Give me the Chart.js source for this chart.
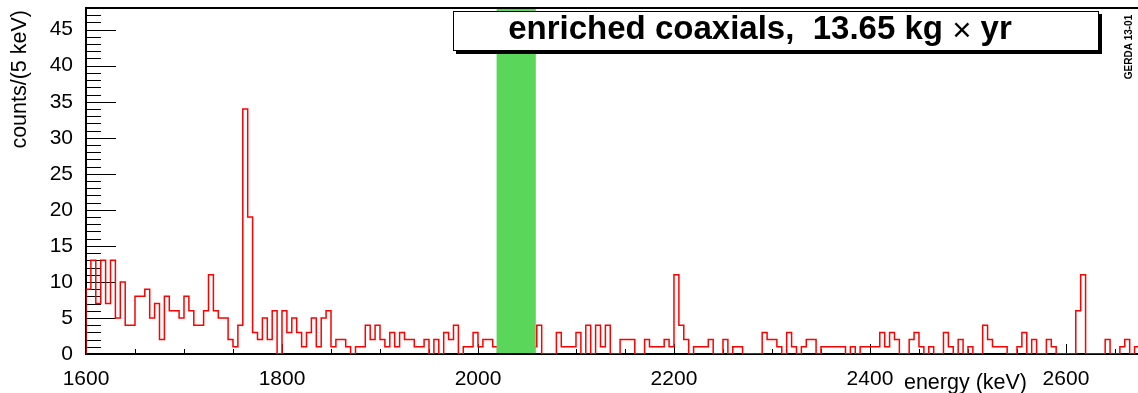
<!DOCTYPE html>
<html><head><meta charset="utf-8">
<script src="https://cdn.jsdelivr.net/npm/chart.js@4.4.0/dist/chart.umd.min.js"></script>
<style>html,body{margin:0;padding:0;background:#fff;overflow:hidden}#wrap{width:1138px;height:393px;position:relative}</style>
</head><body><div id="wrap"><canvas id="c" width="1138" height="393"></canvas></div>
<script>
// ---- data: counts per 5 keV bin, starting at 1600 keV ----
const binStart = 1600;
const binWidth = 5;
const counts1600 = [9,13,7,13,7,13,5,10,4,4, 8,8,9,5,7,2,8,6,6,5, 8,6,4,4,6,11,6,5,5,2, 1,4,34,19,3,2,5,2,6,0];
const counts1800 = [6,3,5,3,1,3,5,1,5,6, 1,2,2,1,0,1,1,4,2,4, 2,1,3,1,3,2,2,1,1,2, 0,2,0,3,2,4,0,1,1,3];
const counts2000 = [1,2,2,1,0,0,0,0,0,0, 0,1,4,0,0,0,3,1,1,1, 3,0,4,0,4,1,4,0,0,2, 2,2,0,0,2,1,1,1,2,1];
const counts2200 = [11,4,2,0,1,1,1,2,0,0, 2,0,1,1,0,0,0,0,3,2, 2,1,0,3,1,0,1,2,2,0, 1,1,1,1,1,0,1,0,1,1];
const counts2400 = [1,1,3,1,3,2,0,0,2,3, 1,0,1,0,0,3,1,0,2,0, 1,0,0,4,2,1,1,1,0,0, 1,3,0,2,0,0,2,1,0,0];
const counts2600 = [0,0,6,11,0,0,0,0,2,0, 0,1,2,0,1];
const counts = [].concat(counts1600, counts1800, counts2000, counts2200, counts2400, counts2600);

const xTickLabels = [1600, 1800, 2000, 2200, 2400, 2600];
const yTickLabels = [0, 5, 10, 15, 20, 25, 30, 35, 40, 45];
const blindWindow = [2019, 2059];
const titleMain = 'enriched coaxials,  13.65 kg ';
const titleTimes = '\u00d7';
const titleUnit = ' yr';
const xTitle = 'energy (keV)';
const yTitle = 'counts/(5 keV)';
const stamp = 'GERDA 13-01';

// histogram outline points (left edge of each bin, plus closing edge)
const points = [{x: binStart, y: 0}];
counts.forEach((c, i) => points.push({x: binStart + i * binWidth, y: c}));
points.push({x: binStart + counts.length * binWidth, y: counts[counts.length - 1]});

const FONT = '"Liberation Sans", Arial, Helvetica, sans-serif';

const axesPlugin = {
  id: 'rootAxes',
  beforeDatasetsDraw(chart) {
    const {ctx, chartArea: a, scales: {x, y}} = chart;
    ctx.save();
    ctx.strokeStyle = '#000';
    ctx.lineWidth = 1;
    for (let v = x.min; v <= x.max; v += 50) {
      const px = Math.round(x.getPixelForValue(v)) + 0.5;
      const len = (v % 200 === 0) ? 10 : 5;
      ctx.beginPath(); ctx.moveTo(px, a.bottom); ctx.lineTo(px, a.bottom - len); ctx.stroke();
    }
    for (let v = 0; v <= y.max; v += 1) {
      const py = Math.round(y.getPixelForValue(v)) + 0.5;
      const len = (v % 5 === 0) ? 30 : 15;
      ctx.beginPath(); ctx.moveTo(a.left, py); ctx.lineTo(a.left + len, py); ctx.stroke();
    }
    ctx.lineWidth = 2;
    ctx.beginPath();
    ctx.moveTo(a.right + 2, a.top); ctx.lineTo(a.left, a.top); ctx.lineTo(a.left, a.bottom); ctx.lineTo(a.right + 2, a.bottom);
    ctx.stroke();
    ctx.restore();
  },
  afterDatasetsDraw(chart) {
    const {ctx, chartArea: a, scales: {x, y}} = chart;
    ctx.save();
    const gx0 = x.getPixelForValue(blindWindow[0]);
    const gx1 = x.getPixelForValue(blindWindow[1]);
    ctx.fillStyle = 'rgb(90,214,90)';
    ctx.fillRect(gx0, a.top + 1, gx1 - gx0, a.bottom - a.top - 2);
    ctx.strokeStyle = '#000';
    ctx.lineWidth = 2;
    ctx.beginPath(); ctx.moveTo(gx0, a.bottom); ctx.lineTo(gx1, a.bottom); ctx.stroke();

    // tick labels
    ctx.fillStyle = '#000';
    ctx.font = '21px ' + FONT;
    ctx.textAlign = 'center'; ctx.textBaseline = 'middle';
    xTickLabels.forEach(v => ctx.fillText(String(v), x.getPixelForValue(v), 379));
    ctx.textAlign = 'right';
    yTickLabels.forEach(v => ctx.fillText(String(v), 73, y.getPixelForValue(v)));

    // axis titles
    ctx.font = '21.5px ' + FONT;
    ctx.textAlign = 'right'; ctx.textBaseline = 'middle';
    ctx.fillText(xTitle, 1027, 383);
    ctx.save();
    ctx.translate(20, 10);
    ctx.rotate(-Math.PI / 2);
    ctx.textAlign = 'right';
    ctx.fillText(yTitle, 0, 0);
    ctx.restore();

    // title box with shadow
    const bx = 453, by = 11, bw = 646, bh = 40;
    ctx.fillStyle = '#000';
    ctx.fillRect(bx + 3, by + 3, bw, bh);
    ctx.fillStyle = '#fff';
    ctx.fillRect(bx, by, bw, bh);
    ctx.strokeStyle = '#000'; ctx.lineWidth = 1;
    ctx.strokeRect(bx + 0.5, by + 0.5, bw - 1, bh - 1);
    ctx.fillStyle = '#000';
    ctx.textBaseline = 'middle';
    const fBold = 'bold 33px ' + FONT, fNorm = '33px ' + FONT;
    ctx.font = fBold; const w1 = ctx.measureText(titleMain).width;
    const w3 = ctx.measureText(titleUnit).width;
    ctx.font = fNorm; const w2 = ctx.measureText(titleTimes).width;
    let tx = 760 - (w1 + w2 + w3) / 2;
    ctx.textAlign = 'left';
    ctx.font = fBold; ctx.fillText(titleMain, tx, 30); tx += w1;
    ctx.font = fNorm; ctx.fillText(titleTimes, tx, 32); tx += w2;
    ctx.font = fBold; ctx.fillText(titleUnit, tx, 30);

    // stamp
    ctx.save();
    ctx.translate(1129, 47);
    ctx.rotate(-Math.PI / 2);
    ctx.font = 'bold 10px ' + FONT;
    ctx.textAlign = 'center'; ctx.textBaseline = 'middle';
    ctx.fillText(stamp, 0, 0);
    ctx.restore();
    ctx.restore();
  }
};

new Chart(document.getElementById('c'), {
  type: 'line',
  data: {
    datasets: [{
      data: points,
      stepped: true,
      borderColor: 'rgb(255,0,0)',
      borderWidth: 1.5,
      pointRadius: 0,
      fill: false,
      tension: 0
    }]
  },
  options: {
    responsive: false,
    animation: false,
    events: [],
    layout: {padding: {top: 8, left: 0, right: 0, bottom: 0}},
    plugins: {legend: {display: false}, tooltip: {enabled: false}},
    scales: {
      x: {
        type: 'linear', min: 1600, max: 2673.5,
        grid: {display: false, drawTicks: false},
        border: {display: false},
        ticks: {display: false},
        afterFit: s => { s.height = 39; }
      },
      y: {
        type: 'linear', min: 0, max: 48,
        grid: {display: false, drawTicks: false},
        border: {display: false},
        ticks: {display: false},
        afterFit: s => { s.width = 86; }
      }
    }
  },
  plugins: [axesPlugin]
});
</script>
</body></html>
